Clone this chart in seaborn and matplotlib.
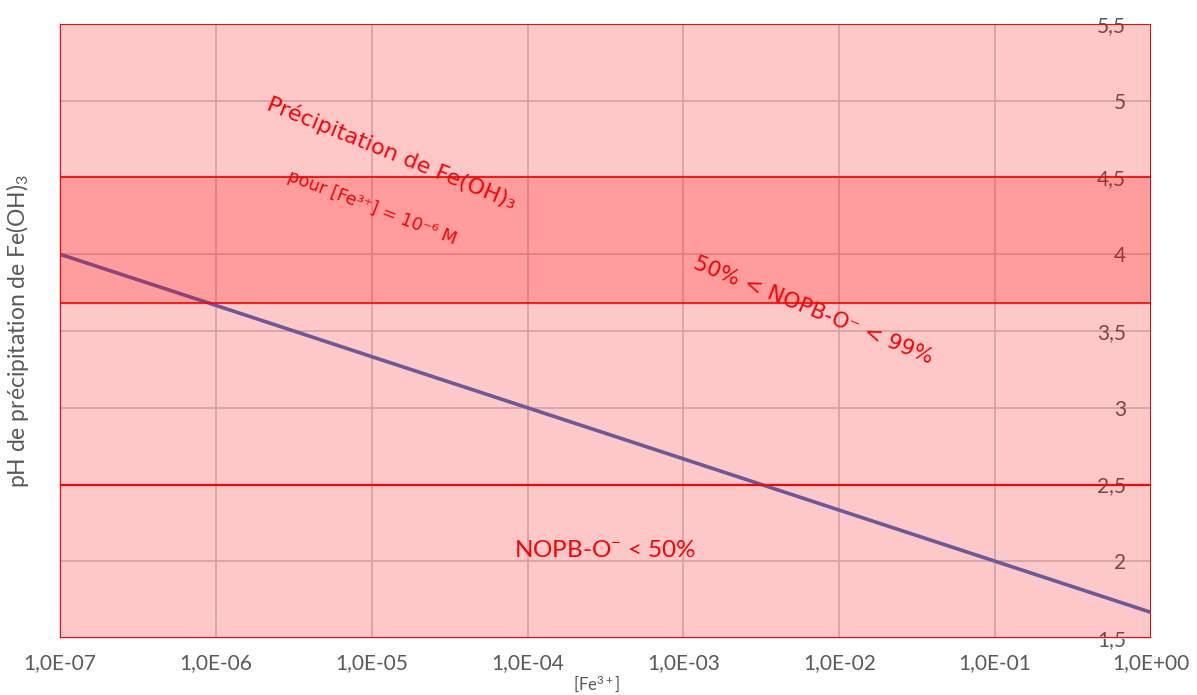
import numpy as np
import pandas as pd
import matplotlib
matplotlib.use("Agg")
import matplotlib.pyplot as plt
import seaborn as sns

# Données
fe3 = [1e-7, 1e-6, 1e-5, 1e-4, 1e-3, 1e-2, 1e-1, 1e0]
ph_precip = [4.0, 3.667, 3.333, 3.0, 2.667, 2.333, 2.0, 1.667]
x_ticks = [1e-7, 1e-6, 1e-5, 1e-4, 1e-3, 1e-2, 1e-1, 1e0]
x_tick_labels = ["1,0E-07", "1,0E-06", "1,0E-05", "1,0E-04", "1,0E-03", "1,0E-02", "1,0E-01", "1,0E+00"]
y_ticks = [1.5, 2, 2.5, 3, 3.5, 4, 4.5, 5, 5.5]
y_tick_labels = ["1,5", "2", "2,5", "3", "3,5", "4", "4,5", "5", "5,5"]

# zones (pH)
zone_totale = (1.5, 5.5)
zone_50_99 = (3.68, 4.5)
seuil_50 = 2.5

df = pd.DataFrame({"fe3": fe3, "ph": ph_precip})

sns.set_style("white")
plt.rcParams["font.family"] = ["Lato", "DejaVu Sans"]
plt.rcParams["mathtext.default"] = "regular"

fig = plt.figure(figsize=(11.97, 6.95), dpi=100)
ax = fig.add_axes([0.0501, 0.082, 0.9115, 0.8835])
ax.set_axisbelow(True)

sns.lineplot(data=df, x="fe3", y="ph", color="#4472C4", linewidth=2.6, ax=ax, zorder=2)

rouge = (1, 0, 0, 0.216)
ax.axhspan(*zone_totale, facecolor=rouge, edgecolor="red", linewidth=1.4, zorder=3)
ax.axhspan(*zone_50_99, facecolor=rouge, edgecolor="red", linewidth=1.2, zorder=3)
ax.axhline(seuil_50, color="red", linewidth=1.6, zorder=3)

ax.set_xscale("log")
ax.set_xlim(1e-7, 1)
ax.set_ylim(1.5, 5.5)
ax.set_xticks(x_ticks)
ax.set_xticklabels(x_tick_labels)
ax.xaxis.set_minor_locator(matplotlib.ticker.NullLocator())
ax.set_yticks(y_ticks)
ax.set_yticklabels(y_tick_labels)
ax.yaxis.tick_right()
for lab in ax.get_yticklabels():
    lab.set_ha("right")
ax.tick_params(axis="y", length=0, pad=-18, labelsize=15, labelcolor="#595959")
ax.tick_params(axis="x", length=0, pad=11, labelsize=15, labelcolor="#595959")

ax.grid(True, which="major", color="#D0D0D0", linewidth=1.3)
for s in ["top", "right"]:
    ax.spines[s].set_visible(False)
for s in ["left", "bottom"]:
    ax.spines[s].set_color("#D9D9D9")
    ax.spines[s].set_linewidth(1.5)

ax.set_ylabel("pH de précipitation de Fe(OH)$_3$", fontsize=16.5, color="#595959")
ax.yaxis.set_label_coords(-0.027, 0.5)
ax.set_xlabel("[Fe$^{3+}$]", fontsize=12, color="#595959")
ax.xaxis.set_label_coords(0.492, -0.058)

dv = ["DejaVu Sans"]
ax.text(0.304, 0.79, "Précipitation de Fe(OH)₃", transform=ax.transAxes, rotation=-22,
        ha="center", va="center", fontsize=16, color="red", family=dv, rotation_mode="anchor")
ax.text(0.286, 0.70, "pour [Fe³⁺] = 10⁻⁶ M", transform=ax.transAxes, rotation=-21,
        ha="center", va="center", fontsize=12.5, color="red", family=dv, rotation_mode="anchor")
ax.text(0.690, 0.534, "50% < NOPB-O⁻ < 99%", transform=ax.transAxes, rotation=-22,
        ha="center", va="center", fontsize=15.5, color="red", family=dv, rotation_mode="anchor")
ax.text(0.500, 0.143, "NOPB-O$^{-}$ < 50%", transform=ax.transAxes,
        ha="center", va="center", fontsize=17.5, color="red")

fig.savefig("out.png", dpi=100)
